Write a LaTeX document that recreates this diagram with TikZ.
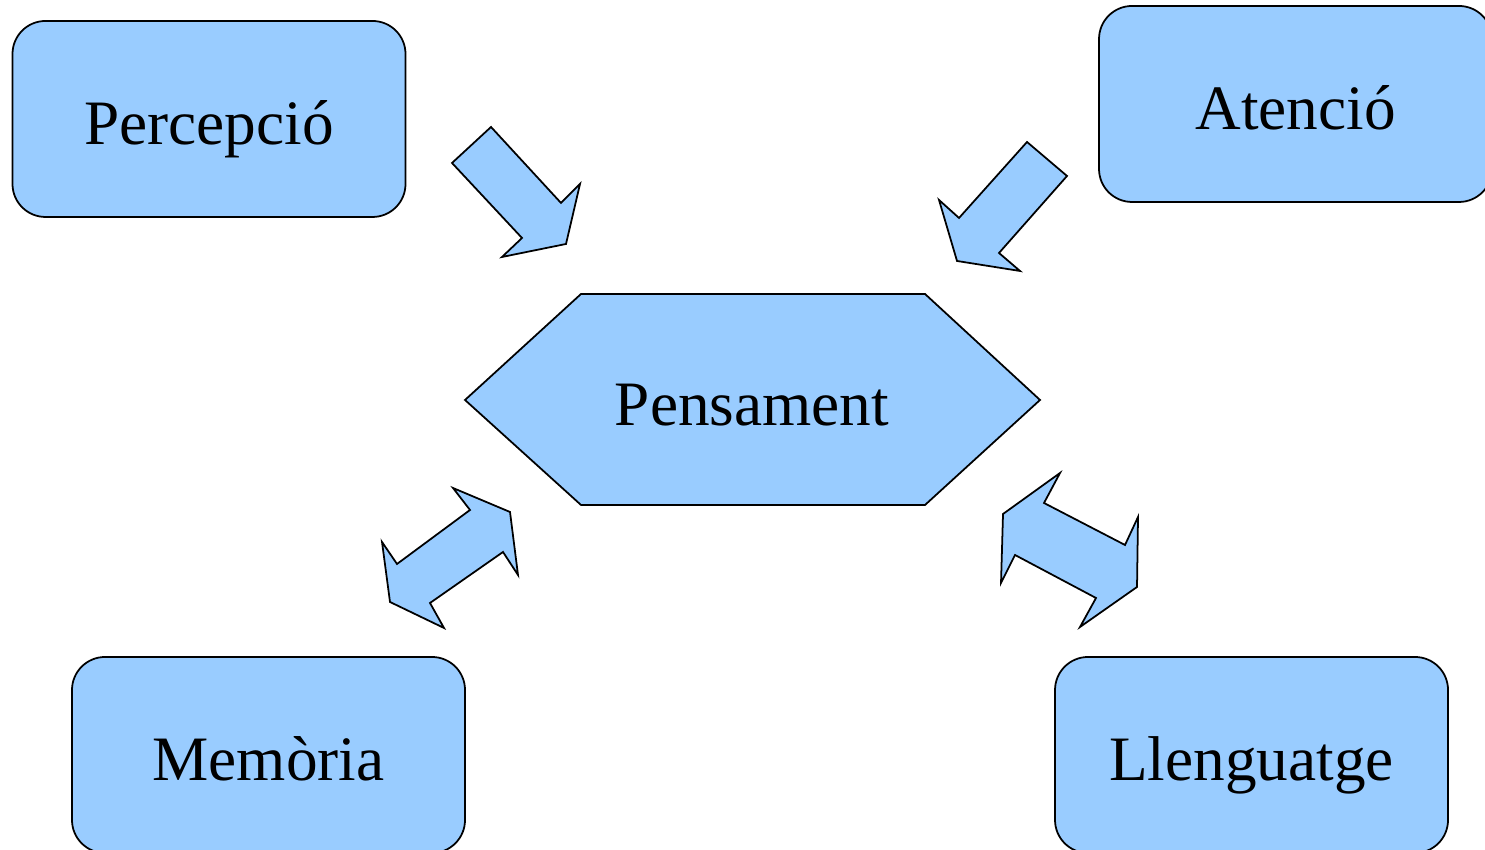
\documentclass[tikz,border=0pt]{standalone}
\usepackage{fontspec}
\setmainfont{Liberation Serif}
\definecolor{cellblue}{HTML}{99CCFF}
\tikzset{
  lletra/.style={font=\fontsize{18}{22}\selectfont, text height=0.52cm, text depth=0cm},
  caixa/.style={lletra, draw, line width=0.5pt, fill=cellblue, rounded corners=0.33cm,
    minimum width=3.93cm, minimum height=1.96cm},
  fletxa/.style={draw, line width=0.5pt, fill=cellblue, line join=miter}
}
\def\hexagon{(4.65,4.50) -- (5.81,5.56) -- (9.25,5.56) -- (10.40,4.50) -- (9.25,3.45) -- (5.81,3.45) -- cycle}
\begin{document}
\begin{tikzpicture}
\useasboundingbox (0,0) rectangle (14.85,8.5);
\clip (0,0) rectangle (14.85,8.5);

\node[caixa] (percepcio) at (2.09,7.31) {Percepció};
\node[caixa] (atencio) at (12.955,7.46) {Atenció};
\node[caixa] (memoria) at (2.685,0.95) {Memòria};
\node[caixa] (llenguatge) at (12.515,0.95) {Llenguatge};

\draw[fletxa] \hexagon;
\node[lletra] (pensament) at (7.52,4.50) {Pensament};

\draw[fletxa] (4.52,6.87) -- (4.91,7.23) -- (5.61,6.47) -- (5.80,6.66) -- (5.66,6.06) -- (5.02,5.93) -- (5.22,6.12) -- cycle;
\draw[fletxa] (10.27,7.08) -- (10.67,6.74) -- (9.99,5.97) -- (10.20,5.79) -- (9.57,5.89) -- (9.39,6.50) -- (9.59,6.32) -- cycle;
\draw[fletxa] (4.53,3.62) -- (5.10,3.38) -- (5.18,2.75) -- (5.03,2.98) -- (4.30,2.47) -- (4.44,2.22) -- (3.90,2.48) -- (3.82,3.08) -- (3.97,2.86) -- (4.70,3.40) -- cycle;
\draw[fletxa] (10.60,3.77) -- (10.44,3.47) -- (11.25,3.05) -- (11.38,3.33) -- (11.37,2.63) -- (10.80,2.23) -- (10.96,2.52) -- (10.15,2.95) -- (10.01,2.67) -- (10.03,3.36) -- cycle;
\end{tikzpicture}
\end{document}
